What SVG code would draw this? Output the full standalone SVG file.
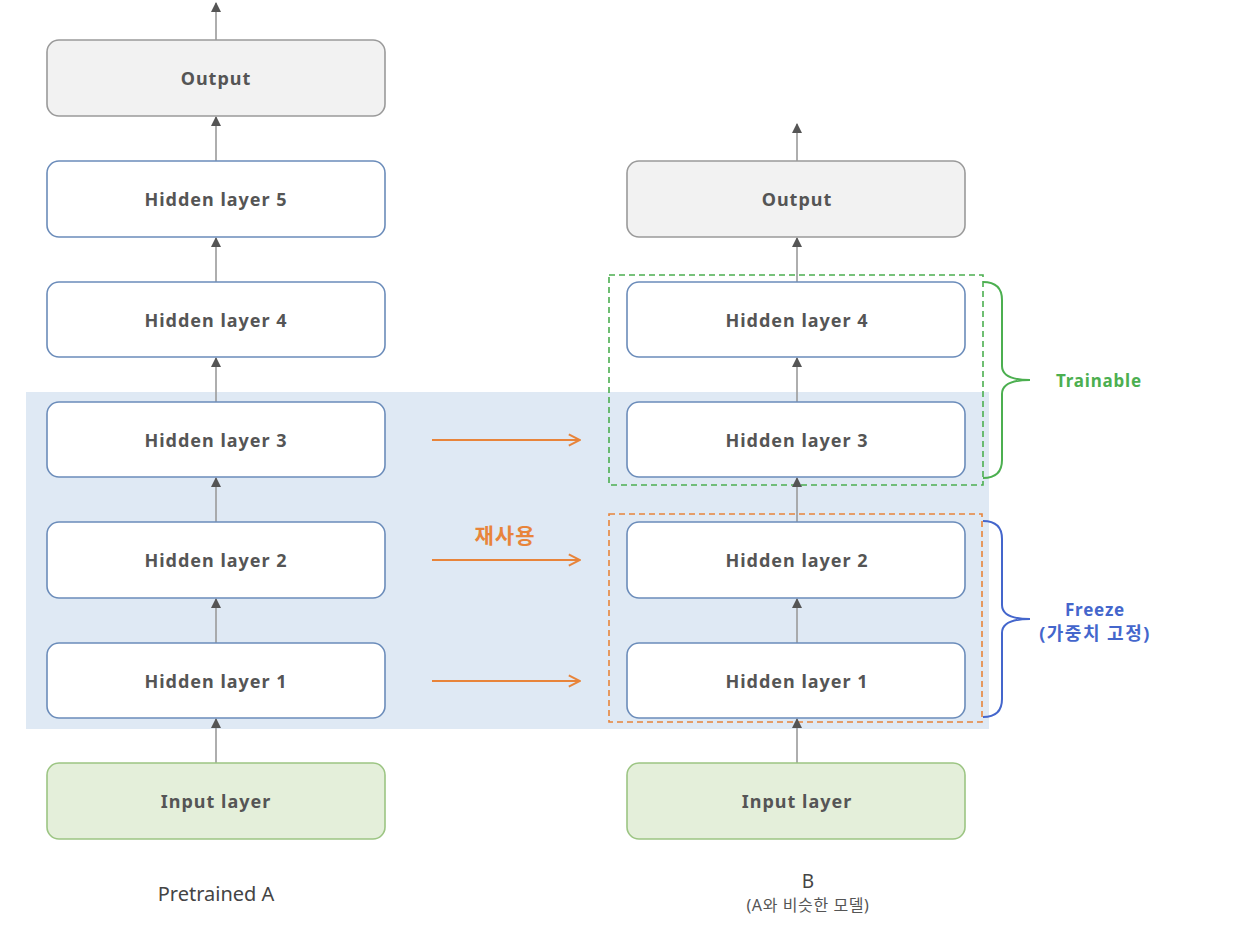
<svg xmlns="http://www.w3.org/2000/svg" width="1238" height="950" viewBox="0 0 1238 950">
<style>
.hid{fill:#fff;stroke:#6b8cba;stroke-width:1.6}
.out{fill:#f2f2f2;stroke:#9a9a9a;stroke-width:1.6}
.inp{fill:#e4efda;stroke:#9cc583;stroke-width:1.6}
.lbl{font-family:"Noto Sans","Liberation Sans",sans-serif;font-weight:bold;font-size:18px;letter-spacing:1px;fill:#555;text-anchor:middle;dominant-baseline:central}
.conn{stroke:#9a9a9a;stroke-width:1.6;fill:none;marker-end:url(#ah)}
.reuse{stroke:#e8843a;stroke-width:2.2;fill:none;marker-end:url(#oh)}
</style>
<defs>
<marker id="ah" viewBox="0 0 10 10" refX="9" refY="5" markerWidth="11" markerHeight="10" orient="auto" markerUnits="userSpaceOnUse"><path d="M0,0 L10,5 L0,10 z" fill="#555"/></marker>
<marker id="oh" viewBox="0 0 10 10" refX="9" refY="5" markerWidth="14" markerHeight="14" orient="auto" markerUnits="userSpaceOnUse"><path d="M1,1 L9,5 L1,9" fill="none" stroke="#e8843a" stroke-width="1.4"/></marker>
</defs>
<rect width="1238" height="950" fill="#fff"/>
<rect id="reuse-band" x="26" y="392" width="963" height="337" fill="#dfe9f4"/>
<rect id="trainable-box" x="609" y="275" width="374" height="210" fill="none" stroke="#4caf50" stroke-width="1.6" stroke-dasharray="6,4"/>
<rect id="freeze-box" x="609" y="514" width="373" height="208" fill="none" stroke="#e8843a" stroke-width="1.6" stroke-dasharray="6,4"/>
<g id="connectors">
<line class="conn" x1="216" y1="40" x2="216" y2="3"/>
<line class="conn" x1="216" y1="161" x2="216" y2="117"/>
<line class="conn" x1="216" y1="282" x2="216" y2="238"/>
<line class="conn" x1="216" y1="402" x2="216" y2="358"/>
<line class="conn" x1="216" y1="522" x2="216" y2="478"/>
<line class="conn" x1="216" y1="643" x2="216" y2="599"/>
<line class="conn" x1="216" y1="763" x2="216" y2="719"/>
<line class="conn" x1="797" y1="161" x2="797" y2="124"/>
<line class="conn" x1="797" y1="282" x2="797" y2="238"/>
<line class="conn" x1="797" y1="402" x2="797" y2="358"/>
<line class="conn" x1="797" y1="522" x2="797" y2="478"/>
<line class="conn" x1="797" y1="643" x2="797" y2="599"/>
<line class="conn" x1="797" y1="763" x2="797" y2="719"/>
<line class="reuse" x1="432" y1="440" x2="580" y2="440"/>
<line class="reuse" x1="432" y1="560" x2="580" y2="560"/>
<line class="reuse" x1="432" y1="681" x2="580" y2="681"/>
</g>
<g id="a-output"><rect class="out" x="47" y="40" width="338" height="76" rx="12"/><text class="lbl" x="216" y="78">Output</text></g>
<g id="a-h5"><rect class="hid" x="47" y="161" width="338" height="76" rx="12"/><text class="lbl" x="216" y="199">Hidden layer 5</text></g>
<g id="a-h4"><rect class="hid" x="47" y="282" width="338" height="75" rx="12"/><text class="lbl" x="216" y="320">Hidden layer 4</text></g>
<g id="a-h3"><rect class="hid" x="47" y="402" width="338" height="75" rx="12"/><text class="lbl" x="216" y="440">Hidden layer 3</text></g>
<g id="a-h2"><rect class="hid" x="47" y="522" width="338" height="76" rx="12"/><text class="lbl" x="216" y="560">Hidden layer 2</text></g>
<g id="a-h1"><rect class="hid" x="47" y="643" width="338" height="75" rx="12"/><text class="lbl" x="216" y="681">Hidden layer 1</text></g>
<g id="a-input"><rect class="inp" x="47" y="763" width="338" height="76" rx="12"/><text class="lbl" x="216" y="801">Input layer</text></g>
<g id="b-output"><rect class="out" x="627" y="161" width="338" height="76" rx="12"/><text class="lbl" x="797" y="199">Output</text></g>
<g id="b-h4"><rect class="hid" x="627" y="282" width="338" height="75" rx="12"/><text class="lbl" x="797" y="320">Hidden layer 4</text></g>
<g id="b-h3"><rect class="hid" x="627" y="402" width="338" height="75" rx="12"/><text class="lbl" x="797" y="440">Hidden layer 3</text></g>
<g id="b-h2"><rect class="hid" x="627" y="522" width="338" height="76" rx="12"/><text class="lbl" x="797" y="560">Hidden layer 2</text></g>
<g id="b-h1"><rect class="hid" x="627" y="643" width="338" height="75" rx="12"/><text class="lbl" x="797" y="681">Hidden layer 1</text></g>
<g id="b-input"><rect class="inp" x="627" y="763" width="338" height="76" rx="12"/><text class="lbl" x="797" y="801">Input layer</text></g>
<g id="reuse-label"><text x="505" y="535" font-family="'Noto Sans','Noto Sans CJK KR',sans-serif" font-weight="bold" font-size="21" letter-spacing="1" fill="#e8843a" text-anchor="middle" dominant-baseline="central">재사용</text></g>
<g id="trainable">
<path d="M983,282 Q1002,282 1002,300 L1002,366 Q1002,380 1030,380 Q1002,380 1002,394 L1002,460 Q1002,478 983,478" fill="none" stroke="#4caf50" stroke-width="2"/>
<text x="1099" y="380" font-family="'Noto Sans',sans-serif" font-weight="bold" font-size="17" letter-spacing="0.8" fill="#4caf50" text-anchor="middle" dominant-baseline="central">Trainable</text>
</g>
<g id="freeze">
<path d="M983,521 Q1002,521 1002,539 L1002,605 Q1002,619 1030,619 Q1002,619 1002,633 L1002,699 Q1002,717 983,717" fill="none" stroke="#4466cc" stroke-width="2"/>
<text x="1095" y="609" font-family="'Noto Sans','Noto Sans CJK KR',sans-serif" font-weight="bold" font-size="17" letter-spacing="0.8" fill="#4466cc" text-anchor="middle" dominant-baseline="central">Freeze</text>
<text x="1095" y="633" font-family="'Noto Sans','Noto Sans CJK KR',sans-serif" font-weight="bold" font-size="18" letter-spacing="1.5" fill="#4466cc" text-anchor="middle" dominant-baseline="central">(가중치 고정)</text>
</g>
<g id="captions">
<text x="216" y="893" font-family="'Noto Sans',sans-serif" font-size="20" fill="#444" text-anchor="middle" dominant-baseline="central" letter-spacing="0">Pretrained A</text>
<text x="808" y="881" font-family="'Noto Sans',sans-serif" font-size="19" fill="#444" text-anchor="middle" dominant-baseline="central">B</text>
<text x="808" y="905" font-family="'Noto Sans','Noto Sans CJK KR',sans-serif" font-size="16" fill="#555" text-anchor="middle" dominant-baseline="central" letter-spacing="0.6">(A와 비슷한 모델)</text>
</g>
</svg>
